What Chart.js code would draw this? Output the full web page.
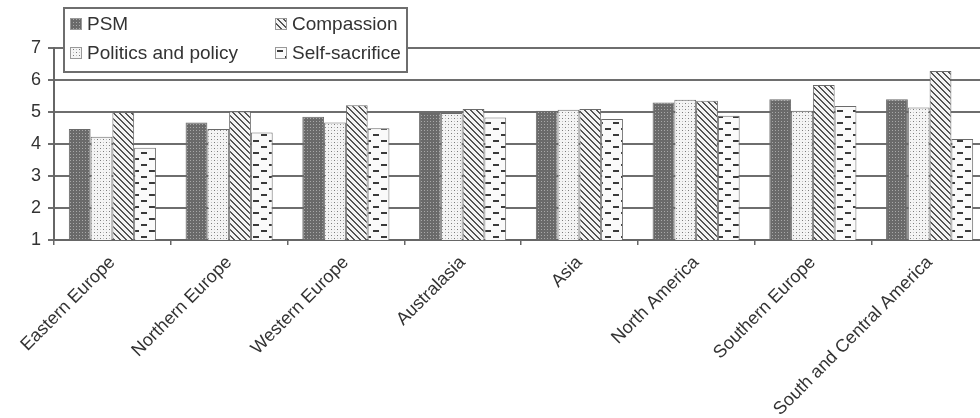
<!DOCTYPE html>
<html>
<head>
<meta charset="utf-8">
<script src="https://cdn.jsdelivr.net/npm/chart.js@4.4.1/dist/chart.umd.min.js"></script>
<style>
  html, body { margin: 0; padding: 0; background: #fff; overflow: hidden; }
  #wrap { position: absolute; left: 0; top: 0; width: 1000px; height: 418px; }
</style>
</head>
<body>
<div id="wrap"><canvas id="c" width="1000" height="418"></canvas></div>
<script>
// Mean scores by world region
const regions = ['Eastern Europe', 'Northern Europe', 'Western Europe', 'Australasia',
                 'Asia', 'North America', 'Southern Europe', 'South and Central America'];
const psm            = [4.47, 4.67, 4.85, 4.97, 5.04, 5.30, 5.40, 5.40];
const politicsPolicy = [4.23, 4.47, 4.67, 4.97, 5.07, 5.38, 5.04, 5.14];
const compassion     = [5.00, 5.02, 5.21, 5.09, 5.09, 5.35, 5.84, 6.28];
const selfSacrifice  = [3.88, 4.36, 4.49, 4.83, 4.78, 4.88, 5.19, 4.16];
const yTicks = [1, 2, 3, 4, 5, 6, 7];

// Legend layout: two columns, column-major order
const legendOrder = [['PSM', 'Politics and policy'], ['Compassion', 'Self-sacrifice']];

const FONT = '"Liberation Sans", Arial, sans-serif';

// Monochrome fill patterns
function makePattern(w, h, draw) {
  const c = document.createElement('canvas');
  c.width = w; c.height = h;
  const g = c.getContext('2d');
  draw(g);
  return g.createPattern(c, 'repeat');
}
const ctx = document.getElementById('c').getContext('2d');

const patDotsDark = makePattern(3, 3, g => {
  g.fillStyle = '#6a6a6a'; g.fillRect(0, 0, 3, 3);
  g.fillStyle = '#a8a8a8'; g.fillRect(1, 1, 1, 1);
});
const patDotsLight = makePattern(6, 6, g => {
  g.fillStyle = '#f4f4f4'; g.fillRect(0, 0, 6, 6);
  g.fillStyle = '#7a7a7a'; g.fillRect(1, 1, 1, 1); g.fillRect(4, 4, 1, 1);
  g.fillStyle = '#c0c0c0'; g.fillRect(4, 1, 1, 1); g.fillRect(1, 4, 1, 1);
});
const patDiagonal = makePattern(6, 6, g => {
  g.fillStyle = '#f4f4f4'; g.fillRect(0, 0, 6, 6);
  g.fillStyle = '#555';
  for (let i = 0; i < 6; i++) { g.fillRect(i, i, 1, 1); g.fillRect((i + 1) % 6, i, 1, 1); }
});
const patDashes = makePattern(16, 12, g => {
  g.fillStyle = '#fafafa'; g.fillRect(0, 0, 16, 12);
  g.fillStyle = '#3a3a3a';
  g.fillRect(5, 2, 6, 2);
  g.fillRect(13, 8, 3, 2); g.fillRect(0, 8, 3, 2);
});

const seriesNames = ['PSM', 'Politics and policy', 'Compassion', 'Self-sacrifice'];
const seriesData = [psm, politicsPolicy, compassion, selfSacrifice];
const seriesFill = [patDotsDark, patDotsLight, patDiagonal, patDashes];

const datasets = seriesNames.map((name, i) => ({
  label: name,
  data: seriesData[i],
  backgroundColor: seriesFill[i],
  borderColor: '#6a6a6a',
  borderWidth: 1,
  categoryPercentage: 0.746,
  barPercentage: 1.0
}));

// Boxed two-column legend over the top of the plot
const boxLegend = {
  id: 'boxLegend',
  afterDraw(chart) {
    const g = chart.ctx;
    const x0 = 64, y0 = 8, w = 343, h = 64;
    g.save();
    g.fillStyle = '#fff';
    g.fillRect(x0, y0, w, h);
    g.strokeStyle = '#6e6e6e';
    g.lineWidth = 2;
    g.strokeRect(x0, y0, w, h);
    const colX = [70, 275];
    const rowY = [24, 53];
    g.font = '19px ' + FONT;
    g.textBaseline = 'middle';
    g.textAlign = 'left';
    legendOrder.forEach((col, ci) => {
      col.forEach((name, ri) => {
        const ds = chart.data.datasets.find(d => d.label === name);
        const sx = colX[ci], sy = rowY[ri] - 6;
        g.fillStyle = ds.backgroundColor;
        g.fillRect(sx, sy, 12, 12);
        g.strokeStyle = '#999';
        g.lineWidth = 1;
        g.strokeRect(sx + 0.5, sy + 0.5, 11, 11);
        g.fillStyle = '#333';
        g.fillText(name, sx + 17, rowY[ri] + 1);
      });
    });
    g.restore();
  }
};

new Chart(ctx, {
  type: 'bar',
  data: { labels: regions, datasets },
  plugins: [boxLegend],
  options: {
    responsive: false,
    animation: false,
    devicePixelRatio: 1,
    layout: { padding: { top: 48, right: 12, left: 0, bottom: 0 } },
    plugins: { legend: { display: false }, tooltip: { enabled: false } },
    scales: {
      x: {
        offset: true,
        grid: { offset: true, drawOnChartArea: false, drawTicks: true, tickLength: 5, color: '#666', lineWidth: 1.5 },
        border: { color: '#666', width: 2 },
        ticks: {
          minRotation: 45, maxRotation: 45, autoSkip: false, padding: 7,
          color: '#333', font: { family: FONT, size: 18 }
        },
        afterFit(scale) { scale.height = 178; }
      },
      y: {
        min: 1, max: 7,
        afterBuildTicks(scale) { scale.ticks = yTicks.map(v => ({ value: v })); },
        grid: { color: '#6e6e6e', lineWidth: 2, drawTicks: true, tickLength: 6 },
        border: { color: '#666', width: 2 },
        ticks: { padding: 7, color: '#333', font: { family: FONT, size: 18 } },
        afterFit(scale) { scale.width = 54; }
      }
    }
  }
});
</script>
</body>
</html>
